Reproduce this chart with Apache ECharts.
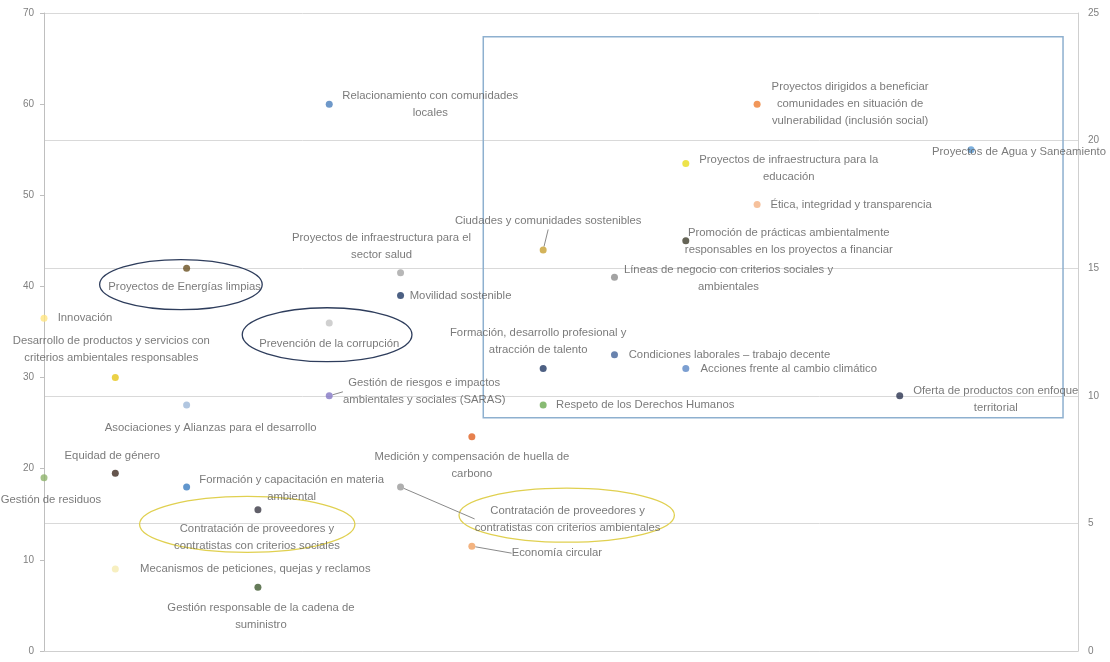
<!DOCTYPE html>
<html>
<head>
<meta charset="utf-8">
<script src="https://cdn.jsdelivr.net/npm/echarts@6/dist/echarts.min.js"></script>
<style>
  html, body { margin: 0; background: #fff; }
  #chart { width: 1110px; height: 662px; }
</style>
</head>
<body>
<div id="chart"></div>
<script>
// temas materiales
const temas = [
  'Relacionamiento con comunidades\nlocales',
  'Proyectos dirigidos a beneficiar\ncomunidades en situación de\nvulnerabilidad (inclusión social)',
  'Proyectos de Agua y Saneamiento',
  'Proyectos de infraestructura para la\neducación',
  'Ética, integridad y transparencia',
  'Ciudades y comunidades sostenibles',
  'Promoción de prácticas ambientalmente\nresponsables en los proyectos a financiar',
  'Proyectos de infraestructura para el\nsector salud',
  'Líneas de negocio con criterios sociales y\nambientales',
  'Proyectos de Energías limpias',
  'Movilidad sostenible',
  'Innovación',
  'Prevención de la corrupción',
  'Desarrollo de productos y servicios con\ncriterios ambientales responsables',
  'Formación, desarrollo profesional y\natracción de talento',
  'Condiciones laborales – trabajo decente',
  'Acciones frente al cambio climático',
  'Gestión de riesgos e impactos\nambientales y sociales (SARAS)',
  'Respeto de los Derechos Humanos',
  'Oferta de productos con enfoque\nterritorial',
  'Asociaciones y Alianzas para el desarrollo',
  'Medición y compensación de huella de\ncarbono',
  'Equidad de género',
  'Gestión de residuos',
  'Formación y capacitación en materia\nambiental',
  'Contratación de proveedores y\ncontratistas con criterios ambientales',
  'Contratación de proveedores y\ncontratistas con criterios sociales',
  'Economía circular',
  'Mecanismos de peticiones, quejas y reclamos',
  'Gestión responsable de la cadena de\nsuministro'
]
const valorX = [4, 10, 13, 9, 10, 7, 9, 5, 8, 2, 5, 0, 4, 1, 7, 8, 9, 4, 7, 12, 2, 6, 1, 0, 2, 5, 3, 6, 1, 3]
const valorY = [60, 60, 55, 53.5, 49, 44, 45, 41.5, 41, 42, 39, 36.5, 36, 30, 31, 32.5, 31, 28, 27, 28, 27, 23.5, 19.5, 19, 18, 18, 15.5, 11.5, 9, 7]

// colores de cada punto
const colores = [
  '#4a7ebb', '#ed7d31', '#5b9bd5', '#e8dc1e', '#f4b183', '#c8a031', '#3f3d2c', '#a5a5a5',
  '#8c8c8c', '#6a5020', '#1f3864', '#ffe57f', '#c4c4c4', '#e6c619', '#203864', '#44649a',
  '#5b87c5', '#8377c4', '#6aaa50', '#2b3350', '#9db8d8', '#e06020', '#3e2a20', '#8db36a',
  '#3a7cc0', '#9a9a9a', '#3a3845', '#f0a060', '#f5ebb0', '#3f5a30'
]
// desplazamiento de cada etiqueta (px) respecto al punto
const desplaza = [
  [101, 0], [93, 0], [48, 2], [103, 5], [94, 0], [5, -29], [103, 1], [-19, -26],
  [114, 1], [-2, 19], [60, 0], [41, 0], [0, 21], [-4, -28], [-5, -27], [115, 0],
  [103, 0], [95, -4], [102, 0], [96, 4], [24, 23], [0, 29], [-3, -17], [7, 22],
  [105, 1], [167, 32], [-1, 28], [85, 7], [140, 0], [3, 29]
]
const conLinea = [5, 17, 25, 27]

// anotaciones: elipses [cx, cy, rx, ry] y recuadro [x1, y1, x2, y2]
const elipses = [
  [1.92, 40.2, 1.14, 2.74, '#2e3d5c'],
  [3.97, 34.7, 1.19, 2.96, '#2e3d5c'],
  [2.85, 13.9, 1.51, 3.07, '#e0d050'],
  [7.33, 14.9, 1.51, 2.96, '#e0d050']
]
const recuadro = [[6.16, 67.4, 14.29, 25.6]]

const chart = echarts.init(document.getElementById('chart'))

const puntos = temas.map((t, i) => ({
  name: t,
  value: [valorX[i], valorY[i]],
  itemStyle: { color: colores[i] },
  labelLine: { show: conLinea.includes(i) }
}))

chart.setOption({
  backgroundColor: '#fff',
  animation: false,
  grid: { left: 44, right: 32, top: 13, bottom: 11 },
  xAxis: {
    type: 'value',
    min: 0,
    max: 14.5,
    axisLine: { show: true, lineStyle: { color: '#cfcfcf' } },
    axisTick: { show: false },
    axisLabel: { show: false },
    splitLine: { show: false }
  },
  yAxis: [
    {
      type: 'value',
      min: 0,
      max: 70,
      interval: 10,
      axisLine: { show: true, lineStyle: { color: '#bfbfbf' } },
      axisTick: { show: true, length: 4, lineStyle: { color: '#bfbfbf' } },
      axisLabel: { color: '#7f7f7f', fontSize: 10, fontFamily: 'Liberation Sans', margin: 10 },
      splitLine: { show: false }
    },
    {
      type: 'value',
      min: 0,
      max: 25,
      interval: 5,
      position: 'right',
      axisLine: { show: true, lineStyle: { color: '#cfcfcf' } },
      axisTick: { show: false },
      axisLabel: { color: '#7f7f7f', fontSize: 10, fontFamily: 'Liberation Sans', margin: 10 },
      splitLine: { show: true, lineStyle: { color: '#d9d9d9' } }
    }
  ],
  series: [
    {
      type: 'custom',
      silent: true,
      data: recuadro,
      renderItem(params, api) {
        const a = api.coord([api.value(0), api.value(1)])
        const b = api.coord([api.value(2), api.value(3)])
        return {
          type: 'rect',
          shape: { x: a[0], y: a[1], width: b[0] - a[0], height: b[1] - a[1] },
          style: { fill: 'none', stroke: '#8eb0cf', lineWidth: 1.5 }
        }
      }
    },
    {
      type: 'custom',
      silent: true,
      data: elipses,
      renderItem(params, api) {
        const c = api.coord([api.value(0), api.value(1)])
        const s = api.size([api.value(2), api.value(3)])
        return {
          type: 'ellipse',
          shape: { cx: c[0], cy: c[1], rx: s[0], ry: s[1] },
          style: { fill: 'none', stroke: elipses[params.dataIndex][4], lineWidth: 1.3 }
        }
      }
    },
    {
      type: 'scatter',
      symbolSize: 7,
      data: puntos,
      label: {
        show: true,
        position: 'inside',
        formatter: '{b}',
        align: 'center',
        verticalAlign: 'middle',
        color: '#595959',
        fontSize: 11.3,
        lineHeight: 17,
        fontFamily: 'Liberation Sans'
      },
      labelLine: {
        lineStyle: { color: '#8a8a8a', width: 1 }
      },
      labelLayout(params) {
        const d = desplaza[params.dataIndex]
        return { dx: d[0], dy: d[1] }
      }
    }
  ]
})
</script>
</body>
</html>
